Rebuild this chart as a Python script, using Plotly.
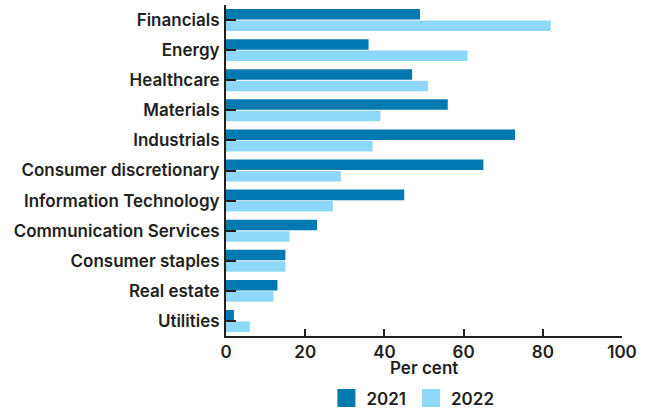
import plotly.graph_objects as go

sectors = [
    "Financials", "Energy", "Healthcare", "Materials", "Industrials",
    "Consumer discretionary", "Information Technology",
    "Communication Services", "Consumer staples", "Real estate", "Utilities",
]
share_2021 = [49, 36, 47, 56, 73, 65, 45, 23, 15, 13, 2]
share_2022 = [82, 61, 51, 39, 37, 29, 27, 16, 15, 12, 6]
x_ticks = [0, 20, 40, 60, 80, 100]

DARK_BLUE = "#0079B1"
LIGHT_BLUE = "#8DD8F8"
INK = "#231f20"
FONT = "Inter"

fig = go.Figure()
fig.add_trace(go.Bar(y=sectors, x=share_2021, orientation="h", name="2021",
                     marker=dict(color=DARK_BLUE, line_width=0), showlegend=False))
fig.add_trace(go.Bar(y=sectors, x=share_2022, orientation="h", name="2022",
                     marker=dict(color=LIGHT_BLUE, line_width=0), showlegend=False))

# legend entries with larger square swatches
for name, col in (("2021", DARK_BLUE), ("2022", LIGHT_BLUE)):
    fig.add_trace(go.Scatter(x=[None], y=[None], mode="markers", name=name,
                             marker=dict(symbol="square", size=16, color=col,
                                         line=dict(color=col, width=2))))

fig.update_layout(
    width=649, height=409,
    margin=dict(l=226, r=27, t=5, b=73, autoexpand=False),
    paper_bgcolor="white", plot_bgcolor="white",
    barmode="group", bargap=0.24, bargroupgap=0.08,
    font=dict(family=FONT, size=17, color=INK, weight=600),
    showlegend=True,
    legend=dict(orientation="h", x=0.472, xanchor="center", xref="paper",
                y=-0.134, yanchor="top", yref="paper",
                font=dict(family=FONT, size=17, color=INK, weight=600),
                itemsizing="trace", itemwidth=30, traceorder="normal"),
    xaxis=dict(range=[0, 100], tickvals=x_ticks, ticks="inside", ticklen=7,
               tickwidth=2, tickcolor=INK, showline=True, linecolor=INK, linewidth=2,
               showgrid=False, zeroline=False, fixedrange=True, automargin=False,
               tickfont=dict(family=FONT, size=17, color=INK, weight=600)),
    yaxis=dict(categoryorder="array", categoryarray=sectors, autorange="reversed",
               ticks="inside", ticklen=10, tickwidth=1.5, tickcolor=INK,
               showline=True, linecolor=INK, linewidth=2, showgrid=False,
               zeroline=False, ticklabelstandoff=1, automargin=False,
               tickfont=dict(family=FONT, size=17, color=INK, weight=600)),
    annotations=[dict(text="Per cent", xref="paper", yref="paper", x=0.5, y=-0.098,
                      xanchor="center", yanchor="middle", showarrow=False,
                      font=dict(family=FONT, size=17, color=INK, weight=600))],
)

fig.write_html("out.html")
